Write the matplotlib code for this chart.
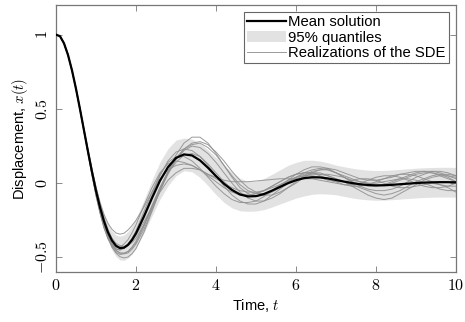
import matplotlib
matplotlib.use("Agg")
import matplotlib.pyplot as plt
import numpy as np

plt.rcParams['font.family'] = ['Liberation Sans', 'DejaVu Sans']
plt.rcParams['mathtext.fontset'] = 'cm'

# time grid: 0.1 steps up to t=2, then 0.2 steps
t = np.round(np.concatenate([np.arange(0, 2.0, 0.1), np.arange(2.0, 10.01, 0.2)]), 1)

# mean solution
mean_x = [1.000, 0.990, 0.942, 0.864, 0.760, 0.636, 0.499, 0.356, 0.213, 0.076,
          -0.051, -0.162, -0.256, -0.331, -0.386, -0.421, -0.437, -0.434, -0.415, -0.382,
          -0.338, -0.224, -0.100, 0.017, 0.108, 0.170, 0.194, 0.187, 0.154, 0.104,
          0.048, -0.004, -0.046, -0.076, -0.089, -0.087, -0.073, -0.050, -0.025, 0.000,
          0.020, 0.034, 0.040, 0.039, 0.032, 0.022, 0.011, 0.001, -0.007, -0.012,
          -0.015, -0.014, -0.011, -0.007, -0.003, 0.001, 0.004, 0.006, 0.007, 0.007,
          0.006]

# 95% quantile band
q_low = [1.000, 0.989, 0.940, 0.861, 0.755, 0.629, 0.489, 0.341, 0.193, 0.049,
         -0.086, -0.204, -0.306, -0.389, -0.451, -0.493, -0.517, -0.519, -0.505, -0.477,
         -0.438, -0.334, -0.220, -0.108, -0.017, 0.050, 0.084, 0.077, 0.039, -0.016,
         -0.077, -0.129, -0.166, -0.186, -0.189, -0.187, -0.178, -0.160, -0.140, -0.120,
         -0.100, -0.086, -0.075, -0.071, -0.073, -0.078, -0.089, -0.099, -0.107, -0.112,
         -0.115, -0.114, -0.111, -0.107, -0.103, -0.099, -0.096, -0.094, -0.093, -0.093,
         -0.094]
q_high = [1.000, 0.991, 0.944, 0.867, 0.765, 0.643, 0.509, 0.371, 0.233, 0.103,
          -0.016, -0.120, -0.206, -0.273, -0.321, -0.349, -0.357, -0.349, -0.325, -0.287,
          -0.238, -0.114, 0.020, 0.142, 0.233, 0.290, 0.304, 0.297, 0.269, 0.224,
          0.173, 0.121, 0.074, 0.034, 0.011, 0.013, 0.032, 0.060, 0.090, 0.120,
          0.140, 0.154, 0.155, 0.149, 0.137, 0.122, 0.111, 0.101, 0.093, 0.088,
          0.085, 0.086, 0.089, 0.093, 0.097, 0.101, 0.104, 0.106, 0.107, 0.107,
          0.106]

# realizations of the SDE
real_a = [1.000, 0.990, 0.942, 0.865, 0.762, 0.639, 0.503, 0.362, 0.225, 0.090,
          -0.030, -0.130, -0.210, -0.270, -0.310, -0.335, -0.343, -0.337, -0.315, -0.285,
          -0.25, -0.16, -0.06, 0.03, 0.09, 0.12, 0.13, 0.12, 0.09, 0.05,
          0.01, -0.03, -0.06, -0.08, -0.08, -0.07, -0.05, -0.02, 0.01, 0.04,
          0.06, 0.07, 0.07, 0.05, 0.03, 0.01, -0.01, -0.02, -0.02, -0.01,
          0.01, 0.03, 0.05, 0.06, 0.06, 0.05, 0.03, 0.01, -0.01, -0.02, -0.02]
real_b = [1.000, 0.990, 0.942, 0.865, 0.761, 0.638, 0.502, 0.360, 0.220, 0.090,
          -0.040, -0.160, -0.270, -0.360, -0.430, -0.470, -0.495, -0.503, -0.497, -0.475,
          -0.44, -0.33, -0.19, -0.05, 0.08, 0.19, 0.27, 0.31, 0.31, 0.27,
          0.20, 0.12, 0.04, -0.03, -0.07, -0.09, -0.08, -0.06, -0.03, 0.01,
          0.04, 0.07, 0.09, 0.10, 0.09, 0.07, 0.04, 0.01, -0.02, -0.04,
          -0.05, -0.05, -0.04, -0.02, 0.01, 0.04, 0.06, 0.08, 0.08, 0.07, 0.05]
real_c = [1.000, 0.990, 0.942, 0.864, 0.760, 0.636, 0.499, 0.356, 0.213, 0.070,
          -0.060, -0.180, -0.280, -0.360, -0.420, -0.455, -0.470, -0.470, -0.460, -0.435,
          -0.40, -0.29, -0.16, -0.03, 0.08, 0.17, 0.23, 0.26, 0.27, 0.24,
          0.19, 0.12, 0.05, -0.01, -0.05, -0.07, -0.07, -0.05, -0.02, 0.02,
          0.06, 0.09, 0.11, 0.11, 0.10, 0.07, 0.04, 0.01, -0.01, -0.02,
          -0.02, -0.01, 0.01, 0.03, 0.05, 0.07, 0.08, 0.08, 0.07, 0.05, 0.03]
real_d = [1.000, 0.990, 0.941, 0.863, 0.758, 0.633, 0.494, 0.350, 0.205, 0.060,
          -0.075, -0.190, -0.290, -0.360, -0.410, -0.440, -0.450, -0.440, -0.420, -0.380,
          -0.33, -0.21, -0.08, 0.05, 0.15, 0.21, 0.23, 0.22, 0.18, 0.12,
          0.05, -0.02, -0.08, -0.12, -0.14, -0.14, -0.12, -0.08, -0.04, 0.00,
          0.04, 0.06, 0.07, 0.07, 0.05, 0.03, 0.01, -0.01, -0.03, -0.05,
          -0.07, -0.08, -0.07, -0.05, -0.02, 0.01, 0.03, 0.05, 0.06, 0.06, 0.05]
real_e = [1.000, 0.990, 0.941, 0.862, 0.757, 0.631, 0.492, 0.347, 0.200, 0.055,
          -0.080, -0.200, -0.300, -0.370, -0.410, -0.430, -0.430, -0.410, -0.380, -0.335,
          -0.28, -0.15, -0.03, 0.07, 0.13, 0.15, 0.14, 0.12, 0.09, 0.06,
          0.04, 0.02, 0.01, 0.01, 0.01, 0.015, 0.02, 0.025, 0.03, 0.03,
          0.03, 0.03, 0.03, 0.02, 0.01, 0.00, -0.01, -0.01, 0.00, 0.02,
          0.04, 0.05, 0.05, 0.04, 0.02, 0.00, -0.02, -0.03, -0.03, -0.02, 0.00]
real_f = [1.000, 0.990, 0.942, 0.864, 0.759, 0.635, 0.497, 0.353, 0.210, 0.070,
          -0.065, -0.185, -0.290, -0.370, -0.430, -0.465, -0.480, -0.475, -0.460, -0.430,
          -0.39, -0.28, -0.15, -0.03, 0.07, 0.14, 0.19, 0.20, 0.18, 0.13,
          0.07, 0.01, -0.04, -0.07, -0.08, -0.07, -0.05, -0.02, 0.01, 0.04,
          0.06, 0.07, 0.07, 0.06, 0.05, 0.03, 0.01, -0.02, -0.05, -0.08,
          -0.10, -0.11, -0.10, -0.07, -0.04, -0.01, 0.02, 0.04, 0.05, 0.05, 0.04]
real_g = [1.000, 0.990, 0.942, 0.864, 0.760, 0.636, 0.499, 0.355, 0.212, 0.075,
          -0.055, -0.170, -0.270, -0.345, -0.400, -0.430, -0.440, -0.435, -0.420, -0.390,
          -0.35, -0.26, -0.16, -0.06, 0.02, 0.07, 0.10, 0.10, 0.09, 0.06,
          0.03, 0.00, -0.03, -0.05, -0.06, -0.06, -0.05, -0.03, -0.01, 0.01,
          0.03, 0.05, 0.06, 0.06, 0.06, 0.05, 0.04, 0.02, 0.01, 0.00,
          -0.01, -0.01, 0.00, 0.02, 0.04, 0.06, 0.07, 0.07, 0.06, 0.04, 0.01]
real_h = [1.000, 0.990, 0.942, 0.865, 0.761, 0.638, 0.502, 0.360, 0.220, 0.085,
          -0.045, -0.160, -0.260, -0.350, -0.410, -0.450, -0.470, -0.475, -0.470, -0.445,
          -0.41, -0.31, -0.18, -0.05, 0.07, 0.16, 0.22, 0.25, 0.24, 0.20,
          0.14, 0.07, 0.00, -0.06, -0.10, -0.12, -0.12, -0.10, -0.07, -0.03,
          0.01, 0.05, 0.08, 0.09, 0.09, 0.07, 0.05, 0.03, 0.01, 0.00,
          0.00, 0.01, 0.02, 0.03, 0.03, 0.02, 0.00, -0.02, -0.04, -0.05, -0.05]
real_i = [1.000, 0.990, 0.943, 0.866, 0.763, 0.641, 0.505, 0.364, 0.225, 0.095,
          -0.025, -0.135, -0.230, -0.310, -0.370, -0.405, -0.420, -0.425, -0.420, -0.400,
          -0.37, -0.28, -0.17, -0.05, 0.06, 0.16, 0.23, 0.27, 0.28, 0.26,
          0.21, 0.15, 0.08, 0.02, -0.03, -0.06, -0.08, -0.08, -0.06, -0.03,
          0.00, 0.04, 0.07, 0.09, 0.10, 0.09, 0.07, 0.05, 0.03, 0.02,
          0.02, 0.03, 0.04, 0.06, 0.07, 0.08, 0.08, 0.07, 0.05, 0.03, 0.01]
real_j = [1.000, 0.990, 0.941, 0.862, 0.757, 0.631, 0.492, 0.347, 0.200, 0.055,
          -0.085, -0.200, -0.300, -0.375, -0.420, -0.445, -0.450, -0.435, -0.410, -0.370,
          -0.32, -0.19, -0.06, 0.06, 0.14, 0.18, 0.18, 0.15, 0.10, 0.04,
          -0.02, -0.07, -0.11, -0.13, -0.13, -0.12, -0.09, -0.05, -0.01, 0.02,
          0.04, 0.05, 0.05, 0.04, 0.02, 0.01, 0.01, 0.02, 0.03, 0.03,
          0.02, 0.00, -0.02, -0.03, -0.03, -0.02, -0.01, 0.00, -0.01, -0.03, -0.06]

realizations = [real_a, real_b, real_c, real_d, real_e, real_f, real_g, real_h, real_i, real_j]

x_ticks = [0, 2, 4, 6, 8, 10]
y_ticks = [-0.5, 0, 0.5, 1]
y_tick_labels = ['$-0.5$', '$0$', '$0.5$', '$1$']

fig = plt.figure(figsize=(4.65, 3.22), dpi=100)
ax = fig.add_axes([0.1204, 0.1543, 0.8602, 0.8302])

ax.fill_between(t, q_low, q_high, color='#e2e2e2', lw=0, label='95% quantiles', zorder=1)
for i, r in enumerate(realizations):
    ax.plot(t, r, color='#909090', lw=0.7, alpha=0.9, zorder=2,
            label='Realizations of the SDE' if i == 0 else None)
ax.plot(t, mean_x, color='black', lw=1.6, zorder=3, label='Mean solution')

ax.set_xlim(0, 10)
ax.set_ylim(-0.6, 1.2)
ax.set_xticks(x_ticks)
ax.set_xticklabels([f'${v}$' for v in x_ticks])
ax.set_yticks(y_ticks)
ax.set_yticklabels(y_tick_labels, rotation=90, va='center')
ax.tick_params(direction='in', top=True, right=True, length=4, width=0.6,
               color='#777777', labelsize=11.5)
ax.tick_params(axis='x', pad=4)
ax.tick_params(axis='y', pad=4)
for s in ax.spines.values():
    s.set_color('#777777')
    s.set_linewidth(0.9)

ax.set_xlabel('Time, $t$', fontsize=10.5, labelpad=3)
ax.set_ylabel('Displacement, $x(t)$', fontsize=10.5, labelpad=4)

h, l = ax.get_legend_handles_labels()
order = [l.index('Mean solution'), l.index('95% quantiles'), l.index('Realizations of the SDE')]
leg = ax.legend([h[k] for k in order], [l[k] for k in order], loc='upper right',
                fontsize=10.7, frameon=True, fancybox=False, edgecolor='#666666',
                framealpha=1, borderpad=0.2, labelspacing=0.1, handlelength=2.6,
                handletextpad=0.15, borderaxespad=0.5)
leg.get_frame().set_linewidth(0.8)

fig.savefig('out.png', dpi=100)
